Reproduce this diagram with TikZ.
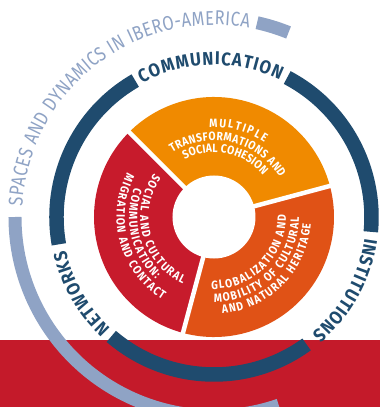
\documentclass[tikz,border=0pt]{standalone}
\usepackage{fontspec}
\setmainfont{Fira Sans}
\newfontfamily\darkfam{Fira Sans}[FakeStretch=0.9]
\newfontfamily\lightfam{Fira Sans}[FakeStretch=0.82]
\newfontfamily\innerfam{Fira Sans}[FakeStretch=0.86]
\newcommand\darkfnt{\darkfam\bfseries\fontsize{18.5}{20}\selectfont}
\newcommand\lightfnt{\lightfam\fontsize{20}{22}\selectfont}
\newcommand\innerfnt{\innerfam\bfseries\fontsize{12}{14}\selectfont}
\usetikzlibrary{decorations.text}
\definecolor{dkblue}{HTML}{1F4B6E}
\definecolor{ltblue}{HTML}{8FA3C5}
\definecolor{orng}{HTML}{F08A00}
\definecolor{redseg}{HTML}{C71B2C}
\definecolor{orred}{HTML}{E05216}
\definecolor{bandred}{HTML}{C41A2A}
\tikzset{
  ringarc/.style={draw=dkblue, line width=14.5pt},
  lightarc/.style={draw=ltblue, line width=13pt},
  gapline/.style={draw=white, line width=4.5pt},
  curvetext/.style 2 args={decorate, decoration={text along path, text align=fit to path, text color=#1, text={#2}}},
}
\begin{document}
\begin{tikzpicture}[x=1pt,y=1pt]
\useasboundingbox (-214,-190) rectangle (166,217);
\fill[white] (-214,-190) rectangle (166,217);
% bottom band
\fill[bandred] (-214,-190) rectangle (166,-123);
% light outer arcs
\draw[lightarc] (180:199) arc[start angle=180, end angle=289, radius=199];
\draw[lightarc] (77.5:199) arc[start angle=77.5, end angle=68, radius=199];
% dark ring arcs
\draw[ringarc] (120:157.5) arc[start angle=120, end angle=190, radius=157.5];
\draw[ringarc] (229.3:157.5) arc[start angle=229.3, end angle=306, radius=157.5];
\draw[ringarc] (-5.4:157.5) arc[start angle=-5.4, end angle=62.3, radius=157.5];
% sectors
\fill[orng] (0,0) -- (15:120) arc[start angle=15, end angle=135, radius=120] -- cycle;
\fill[redseg] (0,0) -- (135:120) arc[start angle=135, end angle=255, radius=120] -- cycle;
\fill[orred] (0,0) -- (255:120) arc[start angle=255, end angle=375, radius=120] -- cycle;
\draw[gapline] (0,0) -- (15:123);
\draw[gapline] (0,0) -- (135:123);
\draw[gapline] (0,0) -- (255:123);
\fill[white] (0,0) circle (41.5);
% light text
\path[curvetext={ltblue}{|\lightfnt|SPACES AND DYNAMICS IN IBERO-AMERICA}]
  (176.8:192) arc[start angle=176.8, end angle=79.5, radius=192];
% dark texts
\path[curvetext={dkblue}{|\darkfnt|COMMUNICATION}]
  (118.3:152) arc[start angle=118.3, end angle=64.3, radius=152];
\path[curvetext={dkblue}{|\darkfnt|NETWORKS}]
  (227:152) arc[start angle=227, end angle=192.7, radius=152];
\path[curvetext={dkblue}{|\darkfnt|INSTITUTIONS}]
  (352:152) arc[start angle=352, end angle=310, radius=152];
% orange texts (clockwise)
\path[curvetext={white}{|\innerfnt|MULTIPLE}]
  (93:90) arc[start angle=93, end angle=56, radius=90];
\path[curvetext={white}{|\innerfnt|TRANSFORMATIONS AND}]
  (123:76.5) arc[start angle=123, end angle=31, radius=76.5];
\path[curvetext={white}{|\innerfnt|SOCIAL COHESION}]
  (117:64.5) arc[start angle=117, end angle=40.5, radius=64.5];
% red texts (counterclockwise)
\path[curvetext={white}{|\innerfnt|SOCIAL AND CULTURAL}]
  (144:73.8) arc[start angle=144, end angle=245, radius=73.8];
\path[curvetext={white}{|\innerfnt|COMMUNICATION:}]
  (159.5:85) arc[start angle=159.5, end angle=227, radius=85];
\path[curvetext={white}{|\innerfnt|MIGRATION AND CONTACT}]
  (153:97.5) arc[start angle=153, end angle=238, radius=97.5];
% orange-red texts (counterclockwise)
\path[curvetext={white}{|\innerfnt|GLOBALIZATION AND}]
  (268:72) arc[start angle=268, end angle=361.5, radius=72];
\path[curvetext={white}{|\innerfnt|MOBILITY OF CULTURAL}]
  (270:85) arc[start angle=270, end angle=360, radius=85];
\path[curvetext={white}{|\innerfnt|AND NATURAL HERITAGE}]
  (275:97) arc[start angle=275, end angle=356, radius=97];
\end{tikzpicture}
\end{document}
